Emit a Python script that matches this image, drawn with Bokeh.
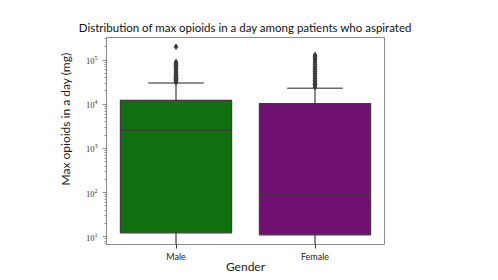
import math
from bokeh.plotting import figure
from bokeh.models import FactorRange, Range1d, Title, ColumnDataSource
from bokeh.embed import file_html
from bokeh.resources import INLINE

# ---- data ----
genders = ["Male", "Female"]
q1 = [12.3, 11.1]
median = [2550, 92]
q3 = [12300, 10400]
upper_whisker = [30400, 23000]
lower_whisker = [1.0, 1.0]
box_colors = ["#107010", "#701070"]

male_outliers = [200000, 90000, 85000, 80000, 75000, 70000, 65000, 60000, 56000,
                 52000, 48000, 45000, 42000, 40000, 38000, 36000, 34000, 32000, 31000]
female_outliers = [130000, 120000, 110000, 100000, 90000, 80000, 72000, 65000, 60000,
                   55000, 50000, 46000, 42000, 38000, 35000, 32000, 30000, 28000, 26000, 24500]

title_text = "Distribution of max opioids in a day among patients who aspirated"
x_label = "Gender"
y_label = "Max opioids in a day (mg)"

p = figure(
    x_range=FactorRange(*genders),
    y_range=Range1d(6.7, 324000),
    y_axis_type="log",
    frame_width=278, frame_height=207,
    min_border_left=106, min_border_right=100, min_border_top=37, min_border_bottom=10,
    output_backend="svg", toolbar_location=None,
)
t = Title(text=title_text, align="center", text_font="Lato", text_font_size="11.5px",
          text_font_style="normal", text_color="#111111", standoff=7)
p.add_layout(t, "above")

p.xgrid.visible = False
p.ygrid.visible = False
p.outline_line_color = "#8c8c8c"
p.outline_line_width = 1
p.background_fill_color = "white"
p.border_fill_color = "white"

src = ColumnDataSource(dict(x=genders, q1=q1, med=median, q3=q3, up=upper_whisker,
                            lo=lower_whisker, color=box_colors))

# whiskers
p.segment(x0="x", x1="x", y0="q3", y1="up", source=src, line_color="#3d3d3d", line_width=1.2)
p.segment(x0="x", x1="x", y0="lo", y1="q1", source=src, line_color="#3d3d3d", line_width=1.2)
# caps
p.vbar(x="x", width=0.4, bottom="up", top="up", source=src, fill_alpha=0,
       line_color="#6a6a6a", line_width=1.5)
# boxes
p.vbar(x="x", width=0.8, bottom="q1", top="q3", source=src, fill_color="color",
       line_color="#3d3d3d", line_width=1.2)
# medians
p.vbar(x="x", width=0.8, bottom="med", top="med", source=src, fill_alpha=0,
       line_color="#3d3d3d", line_width=1.2)

# outliers
p.scatter(x=["Male"] * len(male_outliers), y=male_outliers, marker="diamond", size=5.5,
          fill_color="#3d3d3d", line_color="#3d3d3d")
p.scatter(x=["Female"] * len(female_outliers), y=female_outliers, marker="diamond", size=5.5,
          fill_color="#3d3d3d", line_color="#3d3d3d")

# x axis
xa = p.xaxis[0]
xa.axis_line_color = None
xa.major_tick_out = 4
xa.major_tick_in = 0
xa.major_tick_line_color = "#333333"
xa.major_label_text_font = "Lato"
xa.major_label_text_font_size = "9px"
xa.major_label_text_color = "#222222"
xa.major_label_standoff = 2
xa.axis_label = x_label
xa.axis_label_text_font = "Lato"
xa.axis_label_text_font_size = "12px"
xa.axis_label_text_font_style = "normal"
xa.axis_label_text_color = "#222222"
xa.axis_label_standoff = -6

# y axis
ya = p.yaxis[0]
ya.axis_line_color = None
ya.major_tick_out = 4
ya.major_tick_in = 0
ya.minor_tick_out = 2
ya.minor_tick_in = 0
ya.major_tick_line_color = "#8c8c8c"
ya.minor_tick_line_color = "#8c8c8c"
ya.major_label_text_font = "Liberation Serif"
ya.major_label_text_font_size = "8.5px"
ya.major_label_text_color = "#333333"
ya.major_label_standoff = 5

ylab = Title(text=y_label, align="left", offset=59, text_font="Lato",
             text_font_size="12px", text_font_style="normal", text_color="#222222",
             standoff=21)
p.add_layout(ylab, "left")

open("out.html", "w").write(file_html(p, INLINE))
